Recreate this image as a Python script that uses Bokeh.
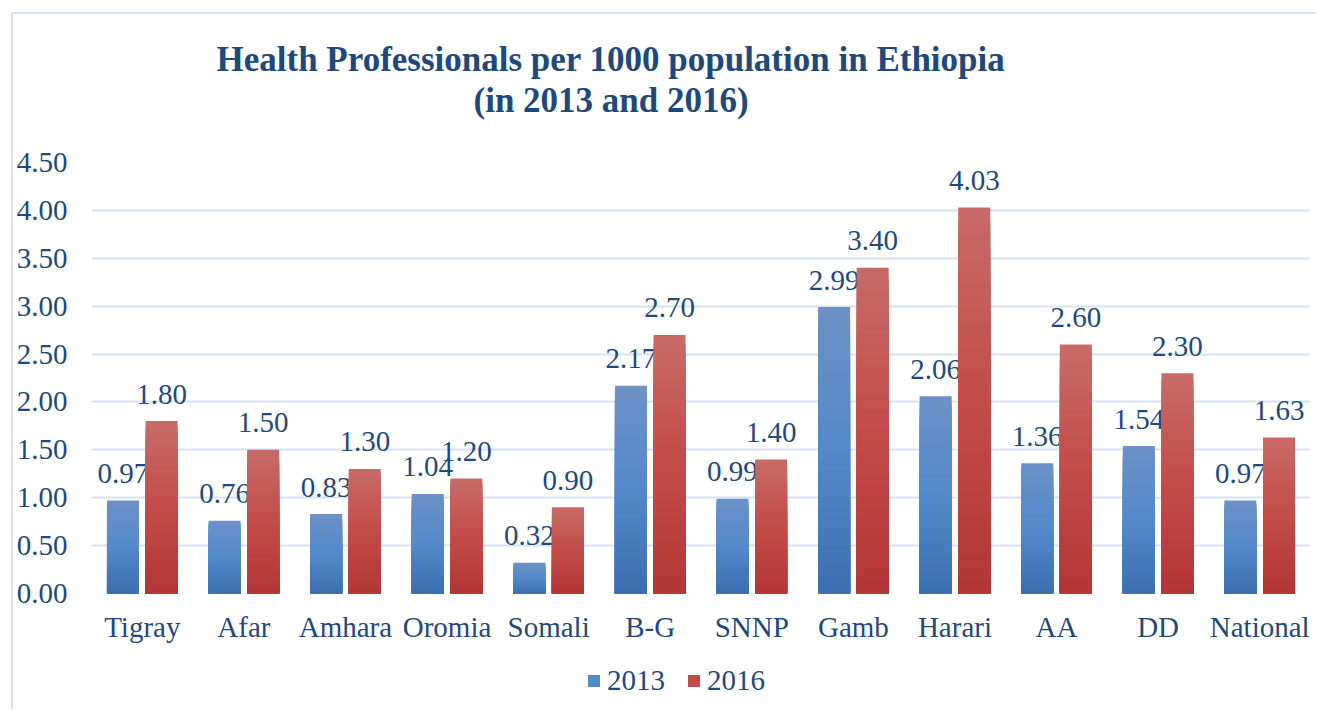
from bokeh.plotting import figure
from bokeh.layouts import column
from bokeh.models import (ColumnDataSource, FactorRange, FixedTicker, NumeralTickFormatter,
                          Legend, LegendItem, Title)
from bokeh.transform import dodge
from bokeh.core.properties import value
from bokeh.embed import file_html
from bokeh.resources import INLINE

# ---------------- data ----------------
regions = ["Tigray", "Afar", "Amhara", "Oromia", "Somali", "B-G", "SNNP", "Gamb",
           "Harari", "AA", "DD", "National"]
vals_2013 = [0.97, 0.76, 0.83, 1.04, 0.32, 2.17, 0.99, 2.99, 2.06, 1.36, 1.54, 0.97]
vals_2016 = [1.80, 1.50, 1.30, 1.20, 0.90, 2.70, 1.40, 3.40, 4.03, 2.60, 2.30, 1.63]
series_names = ["2013", "2016"]
y_ticks = [0.0, 0.5, 1.0, 1.5, 2.0, 2.5, 3.0, 3.5, 4.0, 4.5]
title_line1 = "Health Professionals per 1000 population in Ethiopia"
title_line2 = "(in 2013 and 2016)"

# ---------------- style ----------------
FONT = "Liberation Serif"
TXT = "#1F497D"
GRID = "#D9E2F3"
BLUE_STOPS = [(108, 145, 198), (84, 137, 203), (60, 110, 176)]
RED_STOPS = [(199, 107, 104), (195, 76, 73), (178, 54, 53)]
N = 30


def grad_color(stops, t):
    if t <= 0.5:
        a, b, f = stops[0], stops[1], t / 0.5
    else:
        a, b, f = stops[1], stops[2], (t - 0.5) / 0.5
    c = [round(a[i] + (b[i] - a[i]) * f) for i in range(3)]
    return "#%02x%02x%02x" % tuple(c)


def gradient_source(values, stops):
    cats, tops, bottoms, colors = [], [], [], []
    for k in range(N - 1, -1, -1):
        frac = (k + 1) / N
        t = 1 - (k + 0.5) / N
        for c, v in zip(regions, values):
            cats.append(c)
            bottoms.append(0)
            tops.append(v * frac)
            colors.append(grad_color(stops, t))
    return ColumnDataSource(dict(cat=cats, top=tops, bottom=bottoms, color=colors))


p = figure(x_range=FactorRange(*regions, range_padding=0), y_range=(0, 4.5),
           width=1303, height=635, output_backend="svg", toolbar_location=None,
           min_border_left=78, min_border_right=6, min_border_top=148, min_border_bottom=56)
p.outline_line_color = None
p.background_fill_color = "white"
p.border_fill_color = "white"

p.xgrid.grid_line_color = None
p.ygrid.grid_line_color = GRID
p.ygrid.grid_line_width = 2
p.yaxis.ticker = FixedTicker(ticks=y_ticks)

p.yaxis.formatter = NumeralTickFormatter(format="0.00")
for ax in (p.xaxis, p.yaxis):
    ax.axis_line_color = None
    ax.major_tick_line_color = None
    ax.minor_tick_line_color = None
    ax.major_tick_out = 0
    ax.major_tick_in = 0
    ax.minor_tick_out = 0
    ax.major_label_text_font = FONT
    ax.major_label_text_font_size = "29px"
    ax.major_label_text_color = TXT
p.yaxis.major_label_standoff = 24
p.xaxis.major_label_standoff = 17

offsets = [-0.19, 0.19]
bar_w = 0.315
for vals, stops, off in zip([vals_2013, vals_2016], [BLUE_STOPS, RED_STOPS], offsets):
    src = gradient_source(vals, stops)
    p.vbar(x=dodge("cat", off, range=p.x_range), top="top", bottom="bottom",
           width=bar_w, fill_color="color", line_color=None, source=src)
    lab_src = ColumnDataSource(dict(cat=regions, v=vals, txt=["%.2f" % v for v in vals]))
    p.text(x=dodge("cat", off, range=p.x_range), y="v", text="txt", source=lab_src,
           text_align="center", text_baseline="middle", y_offset=-27,
           text_font=value(FONT), text_font_size="29px", text_color=TXT)

# two-line title: spacer next to the frame, then line 2, p.title (line 1) outermost
p.add_layout(Title(text=" ", standoff=40, text_font_size="1px"), "above")
p.add_layout(Title(text=title_line2, align="left", offset=382, standoff=0,
                   text_font=FONT, text_font_size="35px", text_font_style="bold",
                   text_color=TXT), "above")
p.title.text = title_line1
p.title.align = "left"
p.title.offset = 125
p.title.standoff = 0
p.title.text_font = FONT
p.title.text_font_size = "35px"
p.title.text_font_style = "bold"
p.title.text_color = TXT

# legend strip below the chart
lg = figure(width=1303, height=60, x_range=(0, 1), y_range=(0, 1), output_backend="svg",
            toolbar_location=None, min_border=0)
lg.axis.visible = False
lg.grid.grid_line_color = None
lg.outline_line_color = None
lg.border_fill_color = "white"
dummy = ColumnDataSource(dict(x=[-1.0], top=[0.0]))
r13 = lg.vbar(x="x", top="top", width=0.1, source=dummy,
              fill_color=grad_color(BLUE_STOPS, 0.5), line_color=None)
r16 = lg.vbar(x="x", top="top", width=0.1, source=dummy,
              fill_color=grad_color(RED_STOPS, 0.5), line_color=None)
legend = Legend(items=[LegendItem(label=series_names[0], renderers=[r13]),
                       LegendItem(label=series_names[1], renderers=[r16])],
                orientation="horizontal", location=(495, 12),
                label_text_font=FONT, label_text_font_size="29px", label_text_color=TXT,
                glyph_width=15, glyph_height=15, label_standoff=6, spacing=21,
                padding=0, margin=0, border_line_color=None, background_fill_alpha=0)
lg.add_layout(legend, "center")

layout = column(p, lg, spacing=0)
layout.styles = {"margin-left": "11px", "margin-top": "12px",
                 "border-left": "2px solid " + GRID, "border-top": "2px solid " + GRID}

open("out.html", "w").write(file_html(layout, INLINE))
